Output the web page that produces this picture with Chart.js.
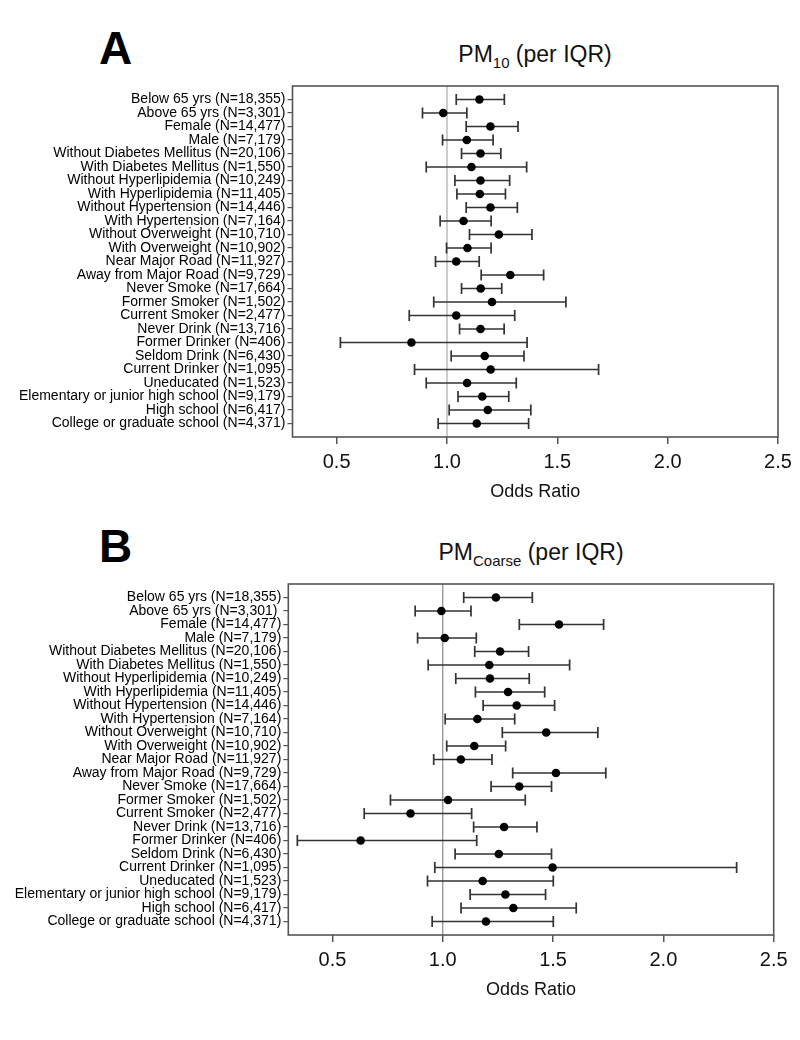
<!DOCTYPE html>
<html><head><meta charset="utf-8">
<script src="https://cdn.jsdelivr.net/npm/chart.js@4.4.1/dist/chart.umd.min.js"></script>
<style>
html,body{margin:0;padding:0;background:#fff;}
body{width:800px;height:1040px;position:relative;overflow:hidden;font-family:"Liberation Sans",Arial,sans-serif;color:#000;}
.panel{position:absolute;left:0;width:800px;height:520px;}
canvas{display:block;}
.letter{position:absolute;font-weight:bold;font-size:46px;line-height:1;}
.title{position:absolute;font-size:23px;line-height:1;white-space:nowrap;transform:translateX(-50%);color:#111;}
.title sub{font-size:15px;vertical-align:baseline;position:relative;top:6px;}
</style></head>
<body>
<div class="letter" style="left:99px;top:25px;">A</div>
<div class="title" style="left:535px;top:43px;">PM<sub>10</sub> (per IQR)</div>
<div class="panel" style="top:0px;"><canvas id="cA" width="800" height="520"></canvas></div>
<div class="letter" style="left:99px;top:523px;">B</div>
<div class="title" style="left:531px;top:541px;">PM<sub>Coarse</sub> (per IQR)</div>
<div class="panel" style="top:498px;"><canvas id="cB" width="800" height="520"></canvas></div>
<script>
const catsA = ["Below 65 yrs (N=18,355)","Above 65 yrs (N=3,301)","Female (N=14,477)","Male (N=7,179)","Without Diabetes Mellitus (N=20,106)","With Diabetes Mellitus (N=1,550)","Without Hyperlipidemia (N=10,249)","With Hyperlipidemia (N=11,405)","Without Hypertension (N=14,446)","With Hypertension (N=7,164)","Without Overweight (N=10,710)","With Overweight (N=10,902)","Near Major Road (N=11,927)","Away from Major Road (N=9,729)","Never Smoke (N=17,664)","Former Smoker (N=1,502)","Current Smoker (N=2,477)","Never Drink (N=13,716)","Former Drinker (N=406)","Seldom Drink (N=6,430)","Current Drinker (N=1,095)","Uneducated (N=1,523)","Elementary or junior high school (N=9,179)","High school (N=6,417)","College or graduate school (N=4,371)"];
const catsB = ["Below 65 yrs (N=18,355)","Above 65 yrs (N=3,301) ","Female (N=14,477)","Male (N=7,179)","Without Diabetes Mellitus (N=20,106)","With Diabetes Mellitus (N=1,550)","Without Hyperlipidemia (N=10,249)","With Hyperlipidemia (N=11,405)","Without Hypertension (N=14,446)","With Hypertension (N=7,164)","Without Overweight (N=10,710)","With Overweight (N=10,902)","Near Major Road (N=11,927)","Away from Major Road (N=9,729)","Never Smoke (N=17,664)","Former Smoker (N=1,502)","Current Smoker (N=2,477)","Never Drink (N=13,716)","Former Drinker (N=406)","Seldom Drink (N=6,430)","Current Drinker (N=1,095)","Uneducated (N=1,523)","Elementary or junior high school (N=9,179)","High school (N=6,417)","College or graduate school (N=4,371)"];

const orA = [1.147,0.983,1.197,1.090,1.152,1.111,1.152,1.149,1.197,1.075,1.235,1.093,1.042,1.287,1.153,1.204,1.042,1.152,0.839,1.171,1.198,1.091,1.160,1.185,1.135];
const loA = [1.042,0.889,1.087,0.980,1.066,0.906,1.036,1.045,1.087,0.969,1.102,0.998,0.948,1.155,1.066,0.940,0.829,1.057,0.517,1.019,0.853,0.906,1.050,1.010,0.960];
const hiA = [1.260,1.090,1.322,1.209,1.244,1.361,1.284,1.265,1.319,1.200,1.385,1.200,1.146,1.438,1.248,1.539,1.307,1.259,1.363,1.349,1.687,1.314,1.280,1.380,1.370];

const orB = [1.241,0.994,1.527,1.009,1.260,1.211,1.214,1.296,1.335,1.157,1.469,1.143,1.082,1.513,1.347,1.024,0.854,1.278,0.628,1.254,1.498,1.181,1.284,1.320,1.196];
const loB = [1.095,0.875,1.347,0.886,1.145,0.934,1.059,1.148,1.183,1.011,1.270,1.018,0.959,1.317,1.219,0.763,0.644,1.140,0.341,1.056,0.964,0.931,1.124,1.083,0.952];
const hiB = [1.406,1.128,1.729,1.152,1.389,1.575,1.392,1.462,1.507,1.326,1.703,1.285,1.223,1.739,1.493,1.374,1.131,1.427,1.154,1.493,2.332,1.501,1.466,1.605,1.501];

const xTicks = [0.5,1.0,1.5,2.0,2.5];
const xMin = 0.3, xMax = 2.5, refOR = 1.0;

function makePanel(id, cats, or, lo, hi, leftEdge, rightEdge, refColor){
  const forest = {
    id:'forest_'+id,
    beforeDatasetsDraw(chart){
      const {ctx, chartArea:a, scales:{x,y}} = chart;
      ctx.save();
      const rx = x.getPixelForValue(refOR);
      ctx.strokeStyle = refColor; ctx.lineWidth = 1.2;
      ctx.beginPath(); ctx.moveTo(rx, a.top); ctx.lineTo(rx, a.bottom); ctx.stroke();
      ctx.strokeStyle = '#333'; ctx.lineWidth = 1.7;
      lo.forEach((l,i)=>{
        const yy = y.getPixelForValue(i+1);
        const x1 = x.getPixelForValue(l), x2 = x.getPixelForValue(hi[i]);
        ctx.beginPath();
        ctx.moveTo(x1,yy); ctx.lineTo(x2,yy);
        ctx.moveTo(x1,yy-5.5); ctx.lineTo(x1,yy+5.5);
        ctx.moveTo(x2,yy-5.5); ctx.lineTo(x2,yy+5.5);
        ctx.stroke();
      });
      ctx.restore();
    },
    afterDraw(chart){
      const {ctx, chartArea:a} = chart;
      ctx.save();
      ctx.strokeStyle = '#555'; ctx.lineWidth = 1.6;
      ctx.strokeRect(a.left, a.top, a.right-a.left, a.bottom-a.top);
      ctx.restore();
    }
  };
  return new Chart(document.getElementById(id), {
    type:'scatter',
    data:{datasets:[{data: or.map((v,i)=>({x:v, y:i+1})), pointRadius:4.3, pointHoverRadius:4.3, backgroundColor:'#000', borderWidth:0}]},
    options:{
      responsive:false, animation:false, devicePixelRatio:1,
      layout:{padding:{top:86, left:0, right:800-rightEdge, bottom:0}},
      plugins:{legend:{display:false}, tooltip:{enabled:false}, title:{display:false}},
      scales:{
        x:{type:'linear', min:xMin, max:xMax,
          afterBuildTicks:s=>{s.ticks = xTicks.map(v=>({value:v}));},
          afterFit:s=>{s.height = 83;},
          ticks:{callback:v=>Number(v).toFixed(1), font:{family:'"Liberation Sans", Arial', size:20}, color:'#111', padding:6, maxRotation:0, autoSkip:false},
          grid:{drawOnChartArea:false, drawTicks:true, tickLength:7, color:'#555', lineWidth:1.5},
          border:{display:false},
          title:{display:true, text:'Odds Ratio', font:{family:'"Liberation Sans", Arial', size:18}, color:'#111', padding:{top:0, bottom:17}}
        },
        y:{type:'linear', min:0, max:26, reverse:true,
          afterBuildTicks:s=>{s.ticks = cats.map((_,i)=>({value:i+1}));},
          afterFit:s=>{s.width = leftEdge;},
          ticks:{callback:v=>cats[v-1], font:{family:'"Liberation Sans", Arial', size:14}, color:'#000', padding:2, autoSkip:false},
          grid:{drawOnChartArea:false, drawTicks:true, tickLength:5, color:'#555', lineWidth:1.2},
          border:{display:false}
        }
      }
    },
    plugins:[forest]
  });
}
makePanel('cA', catsA, orA, loA, hiA, 292.5, 778, '#aaa');
makePanel('cB', catsB, orB, loB, hiB, 288.3, 773.7, '#888');
</script>
</body></html>
